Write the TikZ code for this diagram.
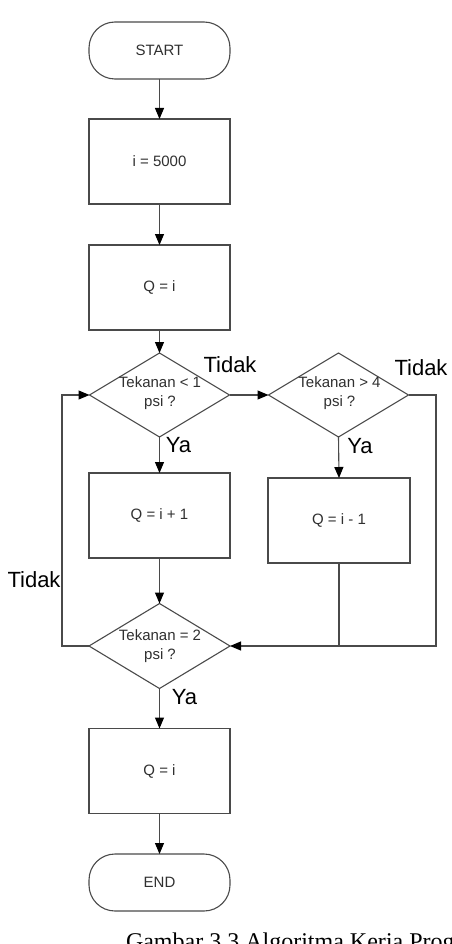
\documentclass[tikz,border=0pt]{standalone}
\usepackage{fontspec}
\setmainfont{Liberation Sans}
\newfontfamily\capfont{Liberation Serif}
\usetikzlibrary{arrows.meta,shapes.geometric}
\definecolor{lc}{HTML}{4A4A4A}
\definecolor{tc}{HTML}{303030}
\begin{document}
\begin{tikzpicture}[x=1pt,y=-1pt,
  every node/.style={inner sep=0pt,outer sep=0pt},
  proc/.style={draw=lc,line width=1.1pt,rectangle,minimum width=141pt,minimum height=85pt,font=\fontsize{15}{19}\selectfont,text=tc},
  term/.style={draw=lc,line width=1.1pt,rectangle,rounded corners=26pt,minimum width=141pt,minimum height=57pt,font=\fontsize{15}{19}\selectfont,text=tc},
  dec/.style={draw=lc,line width=1.1pt,diamond,aspect=1.667,minimum width=140pt,minimum height=84pt},
  dtext/.style={align=center,font=\fontsize{15}{19}\selectfont,text=tc},
  lab/.style={font=\fontsize{22}{24}\selectfont,anchor=base},
  conn/.style={draw=lc,line width=1.1pt},
  arr/.style={conn,-{Triangle[length=11pt,width=9pt,color=black]}}]
\useasboundingbox (0,0) rectangle (451,944);
\fill[white] (0,0) rectangle (451,944);
\node[term] (start) at (159.5,50.5) {START};
\node[proc] (b1) at (159.5,161.5) {i = 5000};
\node[proc] (b2) at (159.5,287.5) {Q = i};
\node[dec] (d1) at (159.5,395) {};
\node[dtext] (t1) at (160,393) {Tekanan < 1\\psi ?};
\node[dec] (d2) at (338.5,395) {};
\node[dtext] (t2) at (339.5,393) {Tekanan > 4\\psi ?};
\node[proc] (b3) at (159.5,515.5) {Q = i + 1};
\node[proc,minimum width=142pt] (b4) at (339,520.5) {Q = i - 1};
\node[dec,minimum width=141pt,minimum height=85pt] (d3) at (159.5,646) {};
\node[dtext] (t3) at (160,646) {Tekanan = 2\\psi ?};
\node[proc] (b5) at (159.5,771) {Q = i};
\node[term] (end) at (159.5,882.5) {END};
\coordinate (r1) at (436,395);
\coordinate (r2) at (436,646);
\coordinate (j1) at (339,646);
\coordinate (l1) at (62,646);
\coordinate (l2) at (62,395);
\draw[arr] (start) -- (b1);
\draw[arr] (b1) -- (b2);
\draw[arr] (b2) -- (d1);
\draw[arr] (d1.east) -- (d2.west);
\draw[arr] (d1.south) -- (b3.north);
\draw[arr] (d2.south) -- (b4.north);
\draw[arr] (d2.east) -- (r1) -- (r2) -- (d3.east);
\draw[conn] (b4.south) -- (j1);
\draw[arr] (b3.south) -- (d3.north);
\draw[arr] (d3.west) -- (l1) -- (l2) -- (d1.west);
\draw[arr] (d3.south) -- (b5.north);
\draw[arr] (b5) -- (end);
\node[lab] (lt1) at (230,372) {Tidak};
\node[lab] (lt2) at (421,375) {Tidak};
\node[lab] (lt3) at (34,587) {Tidak};
\node[lab] (ly1) at (178.5,452) {Ya};
\node[lab] (ly2) at (360,453) {Ya};
\node[lab] (ly3) at (184.5,704) {Ya};
\node[font=\capfont\fontsize{24}{26}\selectfont,anchor=base west] (cap) at (126,949) {Gambar 3.3 Algoritma Kerja Program};
\end{tikzpicture}
\end{document}
